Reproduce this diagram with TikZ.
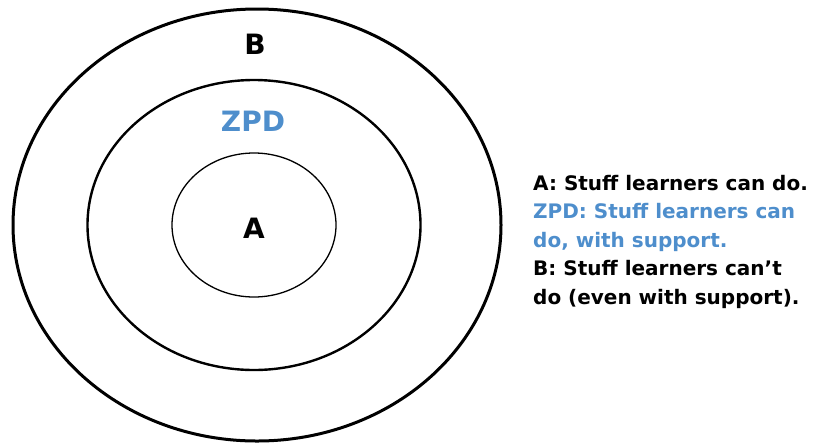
\documentclass[tikz,border=0pt]{standalone}
\usepackage{fontspec}
\setmainfont{DejaVu Sans}
\usepackage{xcolor}
\usetikzlibrary{positioning,shapes.geometric}

\definecolor{zpdblue}{RGB}{78,142,204}

\begin{document}
\begin{tikzpicture}[
  x=1pt, y=1pt,
  every node/.style={font=\bfseries},
  ring/.style={ellipse, draw, inner sep=0pt},
  lbl/.style={font=\fontsize{28}{32}\selectfont\bfseries},
  desc/.style={align=left, inner sep=0pt, anchor=north west,
    font=\fontsize{20}{28.5}\selectfont\bfseries},
]
\useasboundingbox (0,0) rectangle (813,-445);

% Rings
\node[ring, line width=3pt, minimum width=488pt, minimum height=432pt] (outerB) at (257,-225) {};
\node[ring, line width=2.4pt, minimum width=333pt, minimum height=290pt] (midZPD) at (254,-225) {};
\node[ring, line width=1.3pt, minimum width=164pt, minimum height=144pt] (innerA) at (254,-225) {};

% Ring labels
\node[lbl] (labB) at (255,-44) {B};
\node[lbl, zpdblue] (labZPD) at (253,-121) {ZPD};
\node[lbl] (labA) at (254,-228) {A};

% Descriptions
\node[desc] (descs) at (533,-175) {A: Stuff learners can do.\\
  \textcolor{zpdblue}{ZPD: Stuff learners can}\\
  \textcolor{zpdblue}{do, with support.}\\
  B: Stuff learners can't\\
  do (even with support).};

\end{tikzpicture}
\end{document}
